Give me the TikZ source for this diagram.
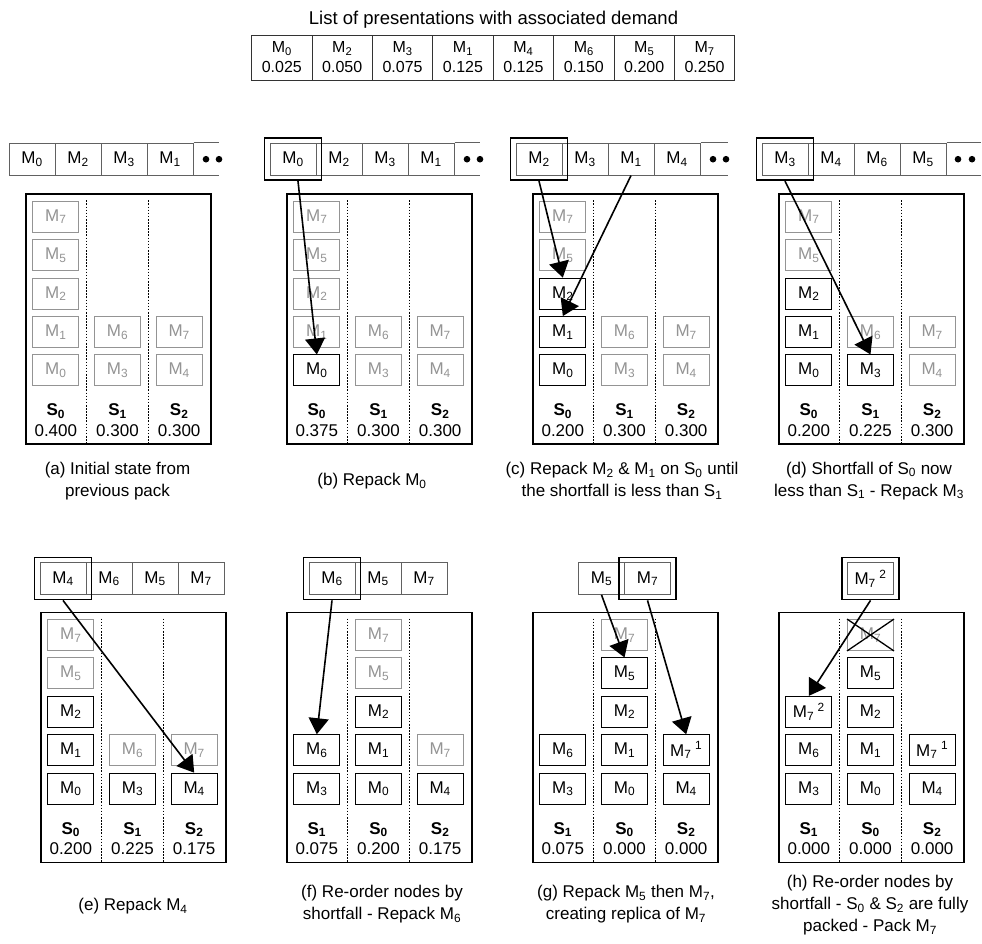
\documentclass[tikz,border=0pt]{standalone}
\usepackage{fontspec}
\setmainfont{Liberation Sans}
\usetikzlibrary{arrows.meta,calc}
\colorlet{inact}{black!42}
\colorlet{qgray}{black!62}
\newcommand{\Ms}[1]{M\textsubscript{#1}}
\newcommand{\Ss}[1]{S\textsubscript{#1}}
\newcommand{\Mr}[1]{M\textsubscript{7}\hspace{3.5pt}\textsuperscript{#1}}
% module node: name, style, X, Y, col, row, text
\newcommand{\md}[7]{\node[#2] (#1) at ({#3+30.83+61.67*#5},{#4+23.5+38.4*(#6-1)}) {#7};}
% panel box: X, Y, prefix
\newcommand{\panelbox}[3]{%
  \node[boxline, anchor=north west] (#3box) at (#1,#2) {};
  \draw[dotline] ($(#3box.north west)+(61.67,7)$) -- ($(#3box.south west)+(61.67,0)$);
  \draw[dotline] ($(#3box.north west)+(123.33,7)$) -- ($(#3box.south west)+(123.33,0)$);
}
% footer: X, Y, prefix, s-a, s-b, s-c, v-a, v-b, v-c
\newcommand{\foot}[9]{%
  \node[lab] (#3s0) at ({#1+30.83},{#2+218}) {\Ss{#4}};
  \node[lab] (#3s1) at ({#1+92.5},{#2+218}) {\Ss{#5}};
  \node[lab] (#3s2) at ({#1+154.17},{#2+218}) {\Ss{#6}};
  \node[val] (#3v0) at ({#1+30.83},{#2+237}) {#7};
  \node[val] (#3v1) at ({#1+92.5},{#2+237}) {#8};
  \node[val] (#3v2) at ({#1+154.17},{#2+237}) {#9};
}
\tikzset{
  boxline/.style={draw=black, line width=1.8pt, minimum width=185pt, minimum height=250pt, inner sep=0pt},
  dotline/.style={line width=1.6pt, dash pattern=on 1.6pt off 1.5pt},
  modA/.style={draw=black, line width=0.9pt, minimum width=46pt, minimum height=31pt, inner sep=0pt, font=\fontsize{17}{20}\selectfont},
  modI/.style={modA, draw=inact, text=inact},
  qcell/.style={draw=qgray, line width=1pt, minimum width=46pt, minimum height=31.7pt, inner sep=0pt, font=\fontsize{17}{20}\selectfont},
  qline/.style={draw=qgray, line width=1pt},
  hlbox/.style={draw=black, line width=1.8pt, minimum width=57pt, minimum height=42pt, inner sep=0pt},
  arr/.style={line width=1.6pt, -{Triangle[length=16pt,width=20pt]}},
  lab/.style={font=\bfseries\fontsize{17}{20}\selectfont, inner sep=0pt},
  val/.style={font=\fontsize{17}{20}\selectfont, inner sep=0pt},
  capt/.style={font=\fontsize{17}{22}\selectfont, align=center, inner sep=0pt},
  tcell/.style={draw=black!80, line width=0.9pt, minimum width=60.4pt, minimum height=45pt, inner sep=0pt, align=center, font=\fontsize{16}{20}\selectfont},
}
\begin{document}
\begin{tikzpicture}[x=1pt,y=-1pt]
\useasboundingbox[fill=white] (0,0) rectangle (982,943);

% ---------- top table ----------
\node[font=\fontsize{18.5}{20}\selectfont] (title) at (493.5,20) {List of presentations with associated demand};
\node[tcell] (t0) at (281.8,57.5) {\Ms0\\0.025};
\node[tcell] (t1) at (342.2,57.5) {\Ms2\\0.050};
\node[tcell] (t2) at (402.6,57.5) {\Ms3\\0.075};
\node[tcell] (t3) at (463.0,57.5) {\Ms1\\0.125};
\node[tcell] (t4) at (523.4,57.5) {\Ms4\\0.125};
\node[tcell] (t5) at (583.8,57.5) {\Ms6\\0.150};
\node[tcell] (t6) at (644.2,57.5) {\Ms5\\0.200};
\node[tcell] (t7) at (704.6,57.5) {\Ms7\\0.250};

% ---------- (a) ----------
\panelbox{25}{193.3}{a}
\md{a01}{modI}{25}{193.3}{0}{1}{\Ms7}
\md{a02}{modI}{25}{193.3}{0}{2}{\Ms5}
\md{a03}{modI}{25}{193.3}{0}{3}{\Ms2}
\md{a04}{modI}{25}{193.3}{0}{4}{\Ms1}
\md{a05}{modI}{25}{193.3}{0}{5}{\Ms0}
\md{a14}{modI}{25}{193.3}{1}{4}{\Ms6}
\md{a15}{modI}{25}{193.3}{1}{5}{\Ms3}
\md{a24}{modI}{25}{193.3}{2}{4}{\Ms7}
\md{a25}{modI}{25}{193.3}{2}{5}{\Ms4}
\foot{25}{193.3}{a}{0}{1}{2}{0.400}{0.300}{0.300}
\node[qcell] (qa1) at (32,159.2) {\Ms0};
\node[qcell] (qa2) at (78,159.2) {\Ms2};
\node[qcell] (qa3) at (124,159.2) {\Ms3};
\node[qcell] (qa4) at (170,159.2) {\Ms1};
\draw[qline] (qa4.north east) -- ++(25,0);
\draw[qline] (qa4.south east) -- ++(25,0);
\fill (206,159.2) circle (3.3pt);
\fill (219,159.2) circle (3.3pt);
\node[capt] (capa) at (117.5,481) {(a) Initial state from\\previous pack};

% ---------- (b) ----------
\panelbox{286}{193.3}{b}
\md{b01}{modI}{286}{193.3}{0}{1}{\Ms7}
\md{b02}{modI}{286}{193.3}{0}{2}{\Ms5}
\md{b03}{modI}{286}{193.3}{0}{3}{\Ms2}
\md{b04}{modI}{286}{193.3}{0}{4}{\Ms1}
\md{b05}{modA}{286}{193.3}{0}{5}{\Ms0}
\md{b14}{modI}{286}{193.3}{1}{4}{\Ms6}
\md{b15}{modI}{286}{193.3}{1}{5}{\Ms3}
\md{b24}{modI}{286}{193.3}{2}{4}{\Ms7}
\md{b25}{modI}{286}{193.3}{2}{5}{\Ms4}
\foot{286}{193.3}{b}{0}{1}{2}{0.375}{0.300}{0.300}
\node[qcell] (qb1) at (293,159.2) {\Ms0};
\node[qcell] (qb2) at (339,159.2) {\Ms2};
\node[qcell] (qb3) at (385,159.2) {\Ms3};
\node[qcell] (qb4) at (431,159.2) {\Ms1};
\draw[qline] (qb4.north east) -- ++(25,0);
\draw[qline] (qb4.south east) -- ++(25,0);
\fill (467,159.2) circle (3.3pt);
\fill (480,159.2) circle (3.3pt);
\node[hlbox] (hlb) at (qb1.center) {};
\draw[arr] ($(hlb.south)+(5,0)$) -- (b05.north);
\node[capt] (capb) at (372,481.5) {(b) Repack \Ms0};

% ---------- (c) ----------
\panelbox{532}{193.3}{c}
\md{c01}{modI}{532}{193.3}{0}{1}{\Ms7}
\md{c02}{modI}{532}{193.3}{0}{2}{\Ms5}
\md{c03}{modA}{532}{193.3}{0}{3}{\Ms2}
\md{c04}{modA}{532}{193.3}{0}{4}{\Ms1}
\md{c05}{modA}{532}{193.3}{0}{5}{\Ms0}
\md{c14}{modI}{532}{193.3}{1}{4}{\Ms6}
\md{c15}{modI}{532}{193.3}{1}{5}{\Ms3}
\md{c24}{modI}{532}{193.3}{2}{4}{\Ms7}
\md{c25}{modI}{532}{193.3}{2}{5}{\Ms4}
\foot{532}{193.3}{c}{0}{1}{2}{0.200}{0.300}{0.300}
\node[qcell] (qc1) at (539,159.2) {\Ms2};
\node[qcell] (qc2) at (585,159.2) {\Ms3};
\node[qcell] (qc3) at (631,159.2) {\Ms1};
\node[qcell] (qc4) at (677,159.2) {\Ms4};
\draw[qline] (qc4.north east) -- ++(27,0);
\draw[qline] (qc4.south east) -- ++(27,0);
\fill (713,159.2) circle (3.3pt);
\fill (726,159.2) circle (3.3pt);
\node[hlbox] (hlc) at (qc1.center) {};
\draw[arr] (hlc.south) -- (c03.north);
\draw[arr] (qc3.south) -- (c04.north);
\node[capt] (capc) at (622,481) {(c) Repack \Ms2 \& \Ms1 on \Ss0 until\\the shortfall is less than \Ss1};

% ---------- (d) ----------
\panelbox{778}{193.3}{d}
\md{d01}{modI}{778}{193.3}{0}{1}{\Ms7}
\md{d02}{modI}{778}{193.3}{0}{2}{\Ms5}
\md{d03}{modA}{778}{193.3}{0}{3}{\Ms2}
\md{d04}{modA}{778}{193.3}{0}{4}{\Ms1}
\md{d05}{modA}{778}{193.3}{0}{5}{\Ms0}
\md{d14}{modI}{778}{193.3}{1}{4}{\Ms6}
\md{d15}{modA}{778}{193.3}{1}{5}{\Ms3}
\md{d24}{modI}{778}{193.3}{2}{4}{\Ms7}
\md{d25}{modI}{778}{193.3}{2}{5}{\Ms4}
\foot{778}{193.3}{d}{0}{1}{2}{0.200}{0.225}{0.300}
\node[qcell] (qd1) at (785,159.2) {\Ms3};
\node[qcell] (qd2) at (831,159.2) {\Ms4};
\node[qcell] (qd3) at (877,159.2) {\Ms6};
\node[qcell] (qd4) at (923,159.2) {\Ms5};
\draw[qline] (qd4.north east) -- ++(34,0);
\draw[qline] (qd4.south east) -- ++(34,0);
\fill (958,159.2) circle (3.3pt);
\fill (972,159.2) circle (3.3pt);
\node[hlbox] (hld) at (qd1.center) {};
\draw[arr] (hld.south) -- (d15.north);
\node[capt] (capd) at (869,481) {(d) Shortfall of \Ss0 now\\less than \Ss1 - Repack \Ms3};

% ---------- (e) ----------
\panelbox{40}{611.5}{e}
\md{e01}{modI}{40}{611.5}{0}{1}{\Ms7}
\md{e02}{modI}{40}{611.5}{0}{2}{\Ms5}
\md{e03}{modA}{40}{611.5}{0}{3}{\Ms2}
\md{e04}{modA}{40}{611.5}{0}{4}{\Ms1}
\md{e05}{modA}{40}{611.5}{0}{5}{\Ms0}
\md{e14}{modI}{40}{611.5}{1}{4}{\Ms6}
\md{e15}{modA}{40}{611.5}{1}{5}{\Ms3}
\md{e24}{modI}{40}{611.5}{2}{4}{\Ms7}
\md{e25}{modA}{40}{611.5}{2}{5}{\Ms4}
\foot{40}{611.5}{e}{0}{1}{2}{0.200}{0.225}{0.175}
\node[qcell] (qe1) at (63,578.5) {\Ms4};
\node[qcell] (qe2) at (109,578.5) {\Ms6};
\node[qcell] (qe3) at (155,578.5) {\Ms5};
\node[qcell] (qe4) at (201,578.5) {\Ms7};
\node[hlbox] (hle) at (qe1.center) {};
\draw[arr] (hle.south) -- (e25.north);
\node[capt] (cape) at (133,906) {(e) Repack \Ms4};

% ---------- (f) ----------
\panelbox{286}{611.5}{f}
\md{f04}{modA}{286}{611.5}{0}{4}{\Ms6}
\md{f05}{modA}{286}{611.5}{0}{5}{\Ms3}
\md{f11}{modI}{286}{611.5}{1}{1}{\Ms7}
\md{f12}{modI}{286}{611.5}{1}{2}{\Ms5}
\md{f13}{modA}{286}{611.5}{1}{3}{\Ms2}
\md{f14}{modA}{286}{611.5}{1}{4}{\Ms1}
\md{f15}{modA}{286}{611.5}{1}{5}{\Ms0}
\md{f24}{modI}{286}{611.5}{2}{4}{\Ms7}
\md{f25}{modA}{286}{611.5}{2}{5}{\Ms4}
\foot{286}{611.5}{f}{1}{0}{2}{0.075}{0.200}{0.175}
\node[qcell] (qf1) at (332,578.5) {\Ms6};
\node[qcell] (qf2) at (378,578.5) {\Ms5};
\node[qcell] (qf3) at (424,578.5) {\Ms7};
\node[hlbox] (hlf) at (qf1.center) {};
\draw[arr] (hlf.south) -- (f04.north);
\node[capt] (capf) at (382,904) {(f) Re-order nodes by\\shortfall - Repack \Ms6};

% ---------- (g) ----------
\panelbox{532}{611.5}{g}
\md{g04}{modA}{532}{611.5}{0}{4}{\Ms6}
\md{g05}{modA}{532}{611.5}{0}{5}{\Ms3}
\md{g11}{modI}{532}{611.5}{1}{1}{\Ms7}
\md{g12}{modA}{532}{611.5}{1}{2}{\Ms5}
\md{g13}{modA}{532}{611.5}{1}{3}{\Ms2}
\md{g14}{modA}{532}{611.5}{1}{4}{\Ms1}
\md{g15}{modA}{532}{611.5}{1}{5}{\Ms0}
\md{g24}{modA}{532}{611.5}{2}{4}{\Mr1}
\md{g25}{modA}{532}{611.5}{2}{5}{\Ms4}
\foot{532}{611.5}{g}{1}{0}{2}{0.075}{0.000}{0.000}
\node[qcell] (qg1) at (601.5,578.5) {\Ms5};
\node[qcell] (qg2) at (647.5,578.5) {\Ms7};
\node[hlbox] (hlg) at (qg2.center) {};
\draw[arr] (qg1.south) -- (g12.north);
\draw[arr] (hlg.south) -- (g24.north);
\node[capt] (capg) at (626,904) {(g) Repack \Ms5 then \Ms7,\\creating replica of \Ms7};

% ---------- (h) ----------
\panelbox{778}{611.5}{h}
\md{h03}{modA}{778}{611.5}{0}{3}{\Mr2}
\md{h04}{modA}{778}{611.5}{0}{4}{\Ms6}
\md{h05}{modA}{778}{611.5}{0}{5}{\Ms3}
\md{h11}{modI}{778}{611.5}{1}{1}{\Ms7}
\md{h12}{modA}{778}{611.5}{1}{2}{\Ms5}
\md{h13}{modA}{778}{611.5}{1}{3}{\Ms2}
\md{h14}{modA}{778}{611.5}{1}{4}{\Ms1}
\md{h15}{modA}{778}{611.5}{1}{5}{\Ms0}
\md{h24}{modA}{778}{611.5}{2}{4}{\Mr1}
\md{h25}{modA}{778}{611.5}{2}{5}{\Ms4}
\draw[line width=1.3pt] (h11.north west) -- (h11.south east);
\draw[line width=1.3pt] (h11.north east) -- (h11.south west);
\foot{778}{611.5}{h}{1}{0}{2}{0.000}{0.000}{0.000}
\node[qcell] (qh1) at (870.5,578.5) {\Mr2};
\node[hlbox] (hlh) at (qh1.center) {};
\draw[arr] (hlh.south) -- (h03.north);
\node[capt] (caph) at (870,905) {(h) Re-order nodes by\\shortfall - \Ss0 \& \Ss2 are fully\\packed - Pack \Ms7};
\end{tikzpicture}
\end{document}
